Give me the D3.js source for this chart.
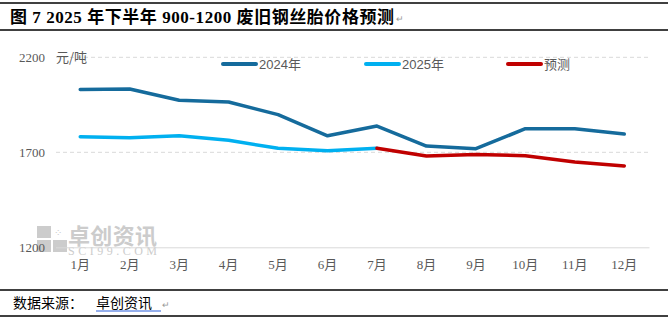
<!DOCTYPE html>
<html>
<head>
<meta charset="utf-8">
<title>废旧钢丝胎价格预测</title>
<script src="https://cdn.jsdelivr.net/npm/d3@7"></script>
<style>
  body { margin: 0; background: #fff; }
  svg { display: block; }
</style>
</head>
<body>
<script>
var w = 668, h = 321;

// data
var months = ["1月","2月","3月","4月","5月","6月","7月","8月","9月","10月","11月","12月"];
var y2024 = [2030, 2033, 1974, 1965, 1898, 1787, 1838, 1733, 1719, 1824, 1824, 1796];
var y2025 = [1782, 1777, 1787, 1763, 1721, 1708, 1721];
var forecast = [null, null, null, null, null, null, 1721, 1680, 1689, 1682, 1649, 1628];
var yTicks = [1200, 1700, 2200];

var seriesNames = ["2024年", "2025年", "预测"];
var colors = ["#156B9C", "#00B0F0", "#C00000"];

var cjk = "'Liberation Serif', 'Noto Sans CJK SC', serif";

var svg = d3.select("body").append("svg")
  .attr("width", w)
  .attr("height", h);

// title block
svg.append("line").attr("x1", 0).attr("x2", 668).attr("y1", 3).attr("y2", 3)
  .attr("stroke", "#000").attr("stroke-width", 1.5);
svg.append("line").attr("x1", 0).attr("x2", 668).attr("y1", 30).attr("y2", 30)
  .attr("stroke", "#000").attr("stroke-width", 1.5);
svg.append("text")
  .attr("x", 10).attr("y", 23)
  .attr("font-family", cjk)
  .attr("font-weight", "bold")
  .attr("font-size", 17)
  .attr("fill", "#000")
  .attr("textLength", 384)
  .attr("lengthAdjust", "spacing")
  .text("图 7 2025 年下半年 900-1200 废旧钢丝胎价格预测");
svg.append("text")
  .attr("x", 396).attr("y", 22)
  .attr("font-family", cjk).attr("font-size", 9).attr("fill", "#999")
  .text("↵");

// plot scales
var x = d3.scaleBand().domain(months).range([55.5, 649]);
var y = d3.scaleLinear().domain([1200, 2200]).range([247.3, 57.3]);

// gridlines
svg.append("g").selectAll("line")
  .data(yTicks.filter(function (d) { return d > 1200; }))
  .enter().append("line")
  .attr("x1", 56).attr("x2", 649)
  .attr("y1", function (d) { return y(d); })
  .attr("y2", function (d) { return y(d); })
  .attr("stroke", "#d9d9d9")
  .attr("stroke-dasharray", "4,3");

// watermark
var wm = svg.append("g").attr("opacity", 0.5);
[[37, 226], [37, 240], [53, 240]].forEach(function (p) {
  wm.append("rect").attr("x", p[0]).attr("y", p[1]).attr("width", 14).attr("height", 12).attr("fill", "#9a9a9a");
});
wm.append("text").attr("x", 54).attr("y", 236).attr("font-size", 10).attr("fill", "#9a9a9a")
  .attr("font-family", "DejaVu Sans").text("⁘");
wm.append("text").attr("x", 68).attr("y", 244)
  .attr("font-family", "'Noto Sans CJK SC'").attr("font-weight", "bold")
  .attr("font-size", 22).attr("fill", "#9a9a9a")
  .attr("textLength", 89).text("卓创资讯");
wm.append("text").attr("x", 68).attr("y", 255)
  .attr("font-family", "'Liberation Serif'").attr("font-size", 12).attr("fill", "#9a9a9a")
  .attr("textLength", 89).text("SCI99.COM");

// x axis
var xAxis = svg.append("g")
  .attr("transform", "translate(0," + y(1200) + ")")
  .call(d3.axisBottom(x).tickSize(0).tickPadding(12));
xAxis.select(".domain").attr("stroke", "#d9d9d9");
xAxis.selectAll("text")
  .attr("font-family", cjk).attr("font-size", 13).attr("fill", "#595959");

// y axis
var yAxis = svg.append("g")
  .attr("transform", "translate(45,0)")
  .call(d3.axisLeft(y).tickValues(yTicks).tickFormat(d3.format("d")).tickSize(0).tickPadding(0));
yAxis.select(".domain").remove();
yAxis.selectAll("text")
  .attr("font-family", cjk).attr("font-size", 13).attr("fill", "#595959");

svg.append("text")
  .attr("x", 56).attr("y", 62)
  .attr("font-family", "'Noto Sans CJK SC'").attr("font-size", 13).attr("fill", "#595959")
  .text("元/吨");

// lines
var line = d3.line()
  .defined(function (d) { return d != null; })
  .x(function (d, i) { return x(months[i]) + x.bandwidth() / 2; })
  .y(function (d) { return y(d); });

[y2024, y2025, forecast].forEach(function (s, i) {
  svg.append("path")
    .datum(s)
    .attr("d", line)
    .attr("fill", "none")
    .attr("stroke", colors[i])
    .attr("stroke-width", 3.5)
    .attr("stroke-linejoin", "round")
    .attr("stroke-linecap", "round");
});

// legend
var legendX = [223, 366, 508];
var legend = svg.append("g").selectAll("g")
  .data(seriesNames)
  .enter().append("g")
  .attr("transform", function (d, i) { return "translate(" + legendX[i] + ",64)"; });
legend.append("line")
  .attr("x1", 0).attr("x2", 33)
  .attr("stroke", function (d, i) { return colors[i]; })
  .attr("stroke-width", 4)
  .attr("stroke-linecap", "round");
legend.append("text")
  .attr("x", 36).attr("y", 5)
  .attr("font-family", "'Liberation Sans', 'Noto Sans CJK SC', sans-serif")
  .attr("font-size", 13).attr("fill", "#595959")
  .text(function (d) { return d; });

// source footer
svg.append("line").attr("x1", 0).attr("x2", 668).attr("y1", 290).attr("y2", 290)
  .attr("stroke", "#000").attr("stroke-width", 1.5);
svg.append("line").attr("x1", 0).attr("x2", 668).attr("y1", 316).attr("y2", 316)
  .attr("stroke", "#000").attr("stroke-width", 1.5);
svg.append("text")
  .attr("x", 13).attr("y", 308)
  .attr("font-family", "'Noto Sans CJK SC'").attr("font-size", 14).attr("fill", "#000")
  .text("数据来源：");
svg.append("text")
  .attr("x", 96).attr("y", 308)
  .attr("font-family", "'Noto Sans CJK SC'").attr("font-size", 14).attr("fill", "#000")
  .text("卓创资讯");
svg.append("line").attr("x1", 96).attr("x2", 161).attr("y1", 311).attr("y2", 311)
  .attr("stroke", "#2b5fd9").attr("stroke-width", 1);
svg.append("text")
  .attr("x", 162).attr("y", 308)
  .attr("font-family", cjk).attr("font-size", 9).attr("fill", "#999")
  .text("↵");
</script>
</body>
</html>
